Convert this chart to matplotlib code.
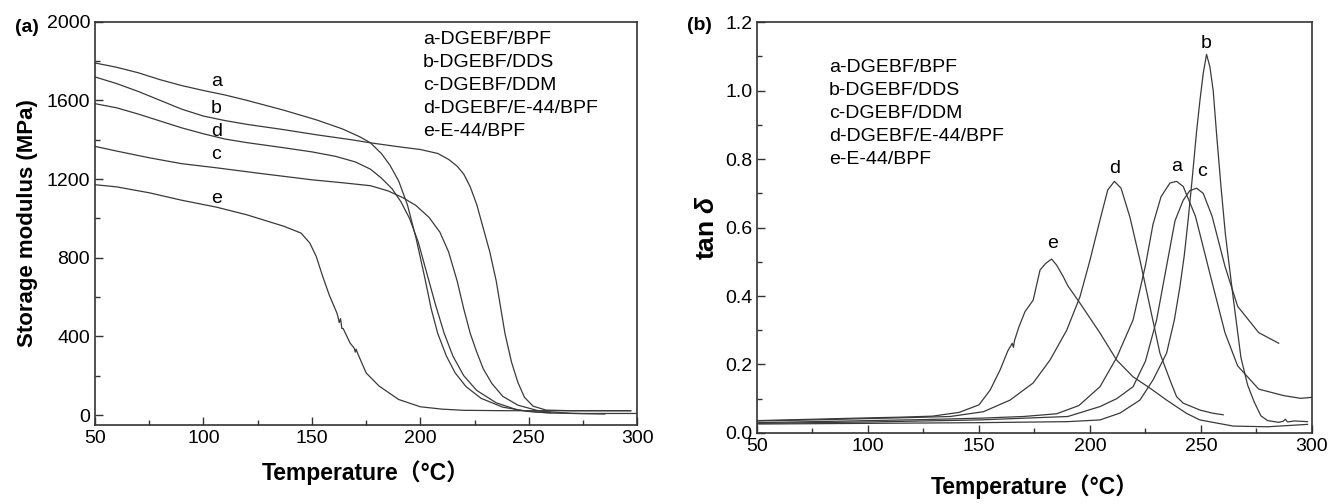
import matplotlib
matplotlib.use("Agg")
import matplotlib.pyplot as plt
from matplotlib.ticker import MultipleLocator, FormatStrFormatter

plt.rcParams['font.family'] = ['Liberation Sans', 'Noto Sans CJK SC']
plt.rcParams['mathtext.fontset'] = 'custom'
plt.rcParams['mathtext.it'] = 'Liberation Sans:italic:bold'
plt.rcParams['mathtext.rm'] = 'Liberation Sans:bold'

# ── (a) storage modulus (MPa) vs temperature (°C) ──────────────────────────
Ta = [50, 60, 70, 80, 90, 100, 110, 120, 137, 152, 164, 172, 177, 182, 186,
      190, 194, 198, 202, 205, 208, 212, 216, 221, 228, 238, 250, 260, 275, 300]
Ea = [1790, 1768, 1740, 1705, 1675, 1650, 1627, 1600, 1550, 1501, 1455, 1415,
      1384, 1330, 1270, 1190, 1070, 900, 700, 540, 415, 300, 215, 145, 85, 40,
      18, 10, 8, 8]

Tb = [50, 60, 70, 80, 90, 100, 110, 120, 137, 152, 168, 177, 190, 200, 208,
      213, 217, 220, 223, 226, 229, 232, 235, 239, 242, 245, 248, 252, 258,
      270, 297]
Eb = [1719, 1685, 1645, 1600, 1555, 1520, 1497, 1478, 1451, 1425, 1400, 1384,
      1364, 1350, 1330, 1300, 1265, 1225, 1160, 1070, 950, 830, 680, 415, 270,
      165, 90, 45, 25, 22, 22]

Tc = [50, 60, 75, 90, 106, 125, 150, 165, 177, 185, 192, 198, 204, 209, 213,
      217, 220, 223, 226, 229, 233, 238, 245, 255, 270, 285]
Ec = [1366, 1342, 1308, 1278, 1257, 1230, 1196, 1180, 1166, 1140, 1105, 1065,
      1005, 930, 830, 680, 540, 415, 320, 235, 160, 95, 50, 20, 8, 5]

Td = [50, 60, 70, 80, 90, 100, 110, 120, 137, 150, 161, 170, 177, 182, 187,
      191, 195, 199, 203, 207, 211, 215, 220, 226, 235, 245, 255, 260]
Ed = [1583, 1562, 1530, 1495, 1460, 1430, 1403, 1385, 1359, 1338, 1315, 1287,
      1250, 1205, 1150, 1085, 1000, 880, 720, 560, 415, 300, 200, 125, 62, 25,
      14, 12]

Te = [50, 60, 75, 90, 106, 120, 137, 145, 149, 152, 155, 158, 161.5, 162,
      162.6, 163.2, 163.8, 164.4, 167.6, 169.5, 170, 170.4, 171, 175, 181, 190,
      200, 210, 220, 240, 270, 297]
Ee = [1171, 1160, 1130, 1092, 1057, 1018, 960, 925, 875, 806, 704, 610, 519,
      500, 470, 490, 440, 440, 366, 340, 320, 335, 316, 214, 147, 79, 42, 30,
      24, 22, 22, 22]

# ── (b) tan delta vs temperature (°C) ──────────────────────────────────────
ta_T = [50, 75, 100, 125, 150, 170, 185, 195, 204.5, 212, 219.4, 225, 228.4,
        232, 236, 239, 242, 247.5, 255, 260.8, 266.5, 276, 287.3, 295, 300]
ta_v = [0.030, 0.033, 0.036, 0.039, 0.043, 0.048, 0.056, 0.080, 0.135, 0.22,
        0.33, 0.49, 0.61, 0.69, 0.73, 0.735, 0.72, 0.633, 0.44, 0.293, 0.196,
        0.128, 0.109, 0.101, 0.104]

tb_T = [50, 100, 150, 190, 204.5, 213.5, 222.5, 228.4, 234.5, 238, 240.5,
        242.5, 244.2, 246, 248, 249.5, 251, 252.5, 254, 255.5, 257, 259, 261,
        264.6, 268, 271, 274, 277, 280, 285, 287, 288, 289, 292, 298]
tb_v = [0.026, 0.028, 0.030, 0.033, 0.038, 0.058, 0.096, 0.155, 0.233, 0.33,
        0.427, 0.52, 0.622, 0.74, 0.88, 0.97, 1.05, 1.106, 1.07, 1.0, 0.875,
        0.72, 0.58, 0.39, 0.22, 0.14, 0.09, 0.05, 0.036, 0.031, 0.034, 0.040,
        0.032, 0.035, 0.033]

tc_T = [50, 75, 100, 150, 190, 204.5, 212, 219.4, 225, 230, 234, 238.3, 242,
        245, 248, 251, 255, 260.8, 266.5, 276, 285]
tc_v = [0.028, 0.030, 0.032, 0.038, 0.048, 0.077, 0.10, 0.135, 0.21, 0.33,
        0.47, 0.62, 0.68, 0.708, 0.715, 0.70, 0.633, 0.487, 0.37, 0.293, 0.262]

td_T = [50, 75, 100, 114, 137, 152, 164, 174.4, 182, 189.5, 195.5, 200, 204.5,
        208, 211, 214, 218, 222.5, 227, 231.5, 236, 239, 242, 249.5, 255, 260]
td_v = [0.035, 0.038, 0.042, 0.044, 0.048, 0.062, 0.096, 0.146, 0.213, 0.30,
        0.398, 0.505, 0.622, 0.71, 0.735, 0.715, 0.63, 0.505, 0.369, 0.233,
        0.155, 0.106, 0.087, 0.067, 0.058, 0.053]

te_T = [50, 75, 100, 114, 129, 141, 150, 155, 159.5, 163, 165, 165.5, 166, 168,
        170.7, 174.4, 177.5, 180, 182.7, 185, 188, 190, 195.5, 204.5, 212,
        219.4, 227, 234.5, 243.5, 249.5, 264.5, 280, 298]
te_v = [0.036, 0.040, 0.044, 0.046, 0.049, 0.060, 0.082, 0.125, 0.184, 0.24,
        0.262, 0.25, 0.27, 0.31, 0.354, 0.388, 0.476, 0.495, 0.508, 0.49,
        0.456, 0.43, 0.379, 0.292, 0.213, 0.164, 0.131, 0.096, 0.057, 0.038,
        0.020, 0.018, 0.025]

legend_lines = ['a-DGEBF/BPF', 'b-DGEBF/DDS', 'c-DGEBF/DDM',
                'd-DGEBF/E-44/BPF', 'e-E-44/BPF']

LC = '#3a3a3a'
LW = 0.9


def style_axes(ax):
    for s in ax.spines.values():
        s.set_linewidth(1.2)
        s.set_color('#333333')
    ax.tick_params(which='both', direction='in', top=False, right=False,
                   labelsize=14, color='#333333')
    ax.tick_params(which='major', length=6, width=1.0)
    ax.tick_params(which='minor', length=3.5, width=1.0)


fig = plt.figure(figsize=(13.29, 5.04), dpi=100)

# panel (a)
ax1 = fig.add_axes([0.0715, 0.157, 0.408, 0.800])
for T, E in [(Ta, Ea), (Tb, Eb), (Tc, Ec), (Td, Ed), (Te, Ee)]:
    ax1.plot(T, E, color=LC, lw=LW)
ax1.set_xlim(50, 300)
ax1.set_ylim(-50, 2000)
ax1.xaxis.set_major_locator(MultipleLocator(50))
ax1.xaxis.set_minor_locator(MultipleLocator(25))
ax1.yaxis.set_major_locator(MultipleLocator(400))
ax1.yaxis.set_minor_locator(MultipleLocator(200))
style_axes(ax1)
ax1.set_xlabel('Temperature（°C）', fontsize=16.5, fontweight='bold', labelpad=10)
ax1.set_ylabel('Storage modulus (MPa)', fontsize=16, fontweight='bold',
               labelpad=6)
for lab, x, y in [('a', 106, 1697), ('b', 106, 1561), ('d', 106, 1442),
                  ('c', 106, 1323), ('e', 106, 1103)]:
    ax1.text(x, y, lab, fontsize=14, ha='center', va='center')
for i, s in enumerate(legend_lines):
    ax1.text(0.605, 0.955 - i * 0.057, s, transform=ax1.transAxes,
             fontsize=14, va='center', ha='left')
fig.text(0.011, 0.945, '(a)', fontsize=14, fontweight='bold', va='center')

# panel (b)
ax2 = fig.add_axes([0.5696, 0.141, 0.4176, 0.815])
for T, v in [(ta_T, ta_v), (tb_T, tb_v), (tc_T, tc_v), (td_T, td_v),
             (te_T, te_v)]:
    ax2.plot(T, v, color=LC, lw=LW)
ax2.set_xlim(50, 300)
ax2.set_ylim(0, 1.2)
ax2.xaxis.set_major_locator(MultipleLocator(50))
ax2.xaxis.set_minor_locator(MultipleLocator(25))
ax2.yaxis.set_major_locator(MultipleLocator(0.2))
ax2.yaxis.set_minor_locator(MultipleLocator(0.1))
ax2.yaxis.set_major_formatter(FormatStrFormatter('%.1f'))
style_axes(ax2)
ax2.set_xlabel('Temperature（°C）', fontsize=16.5, fontweight='bold', labelpad=14)
ax2.set_ylabel(r'tan $\delta$', fontsize=19, fontweight='bold', labelpad=4)
for lab, x, y in [('b', 252.2, 1.138), ('d', 211, 0.773), ('a', 239, 0.778),
                  ('c', 250.5, 0.763), ('e', 183.2, 0.554)]:
    ax2.text(x, y, lab, fontsize=14, ha='center', va='center')
for i, s in enumerate(legend_lines):
    ax2.text(0.13, 0.89 - i * 0.056, s, transform=ax2.transAxes,
             fontsize=14, va='center', ha='left')
fig.text(0.517, 0.95, '(b)', fontsize=14, fontweight='bold', va='center')

fig.savefig('out.png', dpi=100)
